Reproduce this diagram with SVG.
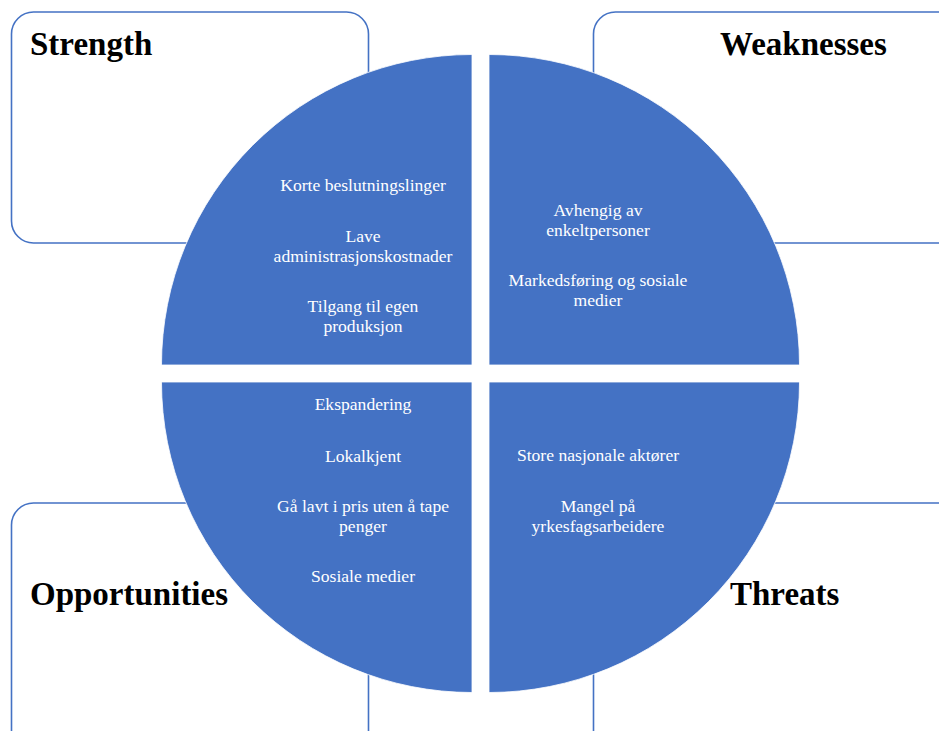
<svg xmlns="http://www.w3.org/2000/svg" width="939" height="731" viewBox="0 0 939 731">
<style>
.box{fill:#fff;stroke:#4472C4;stroke-width:1.6}
.q{fill:#4472C4;stroke:#fff;stroke-width:0.8}
.h{font-family:"Liberation Serif","Times New Roman",serif;font-weight:bold;font-size:33px;fill:#000}
.t{font-family:"Liberation Serif","Times New Roman",serif;font-size:17.6px;fill:#fff;text-anchor:middle}
</style>
<rect width="939" height="731" fill="#fff"/>
<g id="box-strength"><rect class="box" x="11.5" y="12" width="357" height="231" rx="22"/></g>
<g id="box-weaknesses"><rect class="box" x="593.5" y="12" width="370" height="231" rx="22"/></g>
<g id="box-opportunities"><rect class="box" x="11.5" y="503" width="357" height="250" rx="22"/></g>
<g id="box-threats"><rect class="box" x="593.5" y="503" width="370" height="250" rx="22"/></g>
<g id="q-strength">
<path class="q" d="M472 365 L161.5 365 A310.5 310.5 0 0 1 472 54.5 Z"/>
<text class="t" x="363" y="191">Korte beslutningslinger</text>
<text class="t" x="363" y="242">Lave</text>
<text class="t" x="363" y="261.5">administrasjonskostnader</text>
<text class="t" x="363" y="312">Tilgang til egen</text>
<text class="t" x="363" y="331.5">produksjon</text>
</g>
<g id="q-weaknesses">
<path class="q" d="M489 365 L489 54.5 A310.5 310.5 0 0 1 799.5 365 Z"/>
<text class="t" x="598" y="216">Avhengig av</text>
<text class="t" x="598" y="235.5">enkeltpersoner</text>
<text class="t" x="598" y="286">Markedsføring og sosiale</text>
<text class="t" x="598" y="305.5">medier</text>
</g>
<g id="q-opportunities">
<path class="q" d="M472 382 L472 692.5 A310.5 310.5 0 0 1 161.5 382 Z"/>
<text class="t" x="363" y="410">Ekspandering</text>
<text class="t" x="363" y="462">Lokalkjent</text>
<text class="t" x="363" y="512">Gå lavt i pris uten å tape</text>
<text class="t" x="363" y="531.5">penger</text>
<text class="t" x="363" y="582">Sosiale medier</text>
</g>
<g id="q-threats">
<path class="q" d="M489 382 L799.5 382 A310.5 310.5 0 0 1 489 692.5 Z"/>
<text class="t" x="598" y="461">Store nasjonale aktører</text>
<text class="t" x="598" y="512">Mangel på</text>
<text class="t" x="598" y="531.5">yrkesfagsarbeidere</text>
</g>
<g id="labels">
<text class="h" x="30" y="55">Strength</text>
<text class="h" x="720" y="55">Weaknesses</text>
<text class="h" x="30" y="605">Opportunities</text>
<text class="h" x="730" y="605">Threats</text>
</g>
<g id="connectors"></g>
</svg>
